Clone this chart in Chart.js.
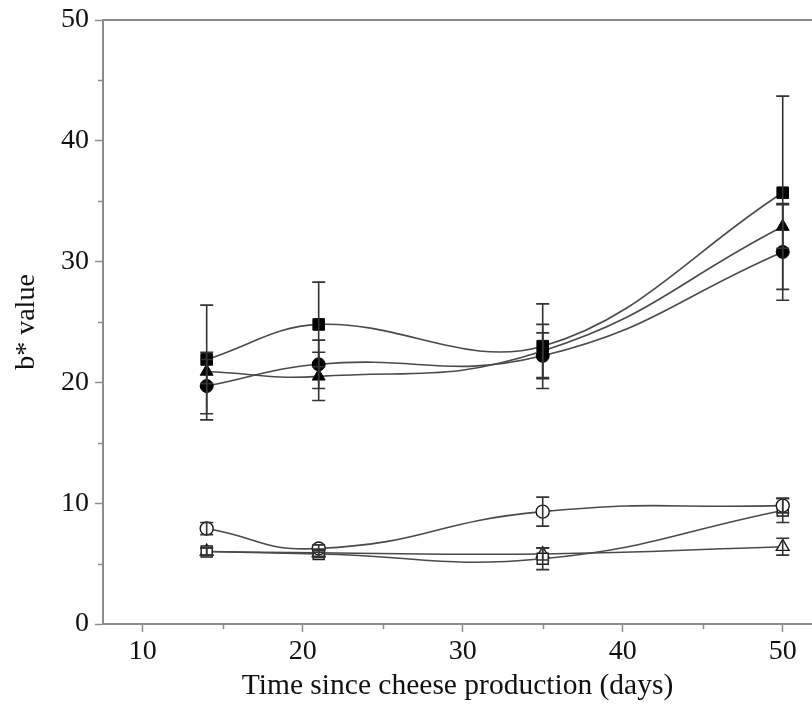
<!DOCTYPE html>
<html>
<head>
<meta charset="utf-8">
<script src="https://cdn.jsdelivr.net/npm/chart.js@4/dist/chart.umd.min.js"></script>
<style>
  html, body { margin: 0; padding: 0; background: #ffffff; }
  #wrap { width: 812px; height: 707px; }
</style>
</head>
<body>
<div id="wrap"><canvas id="chart" width="812" height="707"></canvas></div>
<script>
// Sampling days
const days = [14, 21, 35, 50];

// b* values (mean) and standard deviations per cheese group
const filledSquare = [21.9, 24.8, 23.0, 35.7];
const filledSquareErr = [4.5, 3.5, 3.5, 8.0];

const filledTriangle = [20.9, 20.5, 22.6, 32.9];
const filledTriangleErr = [1.0, 2.0, 2.2, 1.8];

const filledCircle = [19.7, 21.5, 22.2, 30.8];
const filledCircleErr = [2.8, 2.0, 1.9, 4.0];

const openCircle = [7.9, 6.25, 9.3, 9.8];
const openCircleErr = [0.5, 0.3, 1.2, 0.6];

const openSquare = [6.0, 5.8, 5.4, 9.4];
const openSquareErr = [0.3, 0.3, 0.9, 1.0];

const openTriangle = [6.0, 5.9, 5.8, 6.4];
const openTriangleErr = [0.3, 0.3, 0.5, 0.7];

// Axis ticks
const xMajorTicks = [10, 20, 30, 40, 50];
const xMinorTicks = [15, 25, 35, 45];
const yMajorTicks = [0, 10, 20, 30, 40, 50];
const yMinorTicks = [5, 15, 25, 35, 45];

const AXIS_GREY = '#8c8c8c';
const LINE_GREY = '#4a4a4a';
const SERIF = '"Liberation Serif", "Times New Roman", serif';

function series(label, values, errors, style, filled, radius, tension) {
  return {
    label: label,
    data: days.map((d, i) => ({ x: d, y: values[i] })),
    errors: errors,
    borderColor: LINE_GREY,
    borderWidth: 1.6,
    tension: tension,
    fill: false,
    clip: false,
    pointStyle: style,
    pointRadius: radius,
    pointHoverRadius: radius,
    pointBackgroundColor: filled ? '#000000' : '#ffffff',
    pointBorderColor: filled ? '#000000' : '#1a1a1a',
    pointBorderWidth: filled ? 1 : 1.4
  };
}

// Vertical error bars with caps, drawn from each point's scale position
const errorBars = {
  id: 'errorBars',
  afterDatasetsDraw(chart) {
    const ctx = chart.ctx;
    const yScale = chart.scales.y;
    ctx.save();
    ctx.strokeStyle = '#333333';
    ctx.lineWidth = 1.6;
    chart.data.datasets.forEach((ds, di) => {
      const meta = chart.getDatasetMeta(di);
      meta.data.forEach((pt, i) => {
        const v = ds.data[i].y;
        const e = ds.errors[i];
        const yTop = yScale.getPixelForValue(v + e);
        const yBot = yScale.getPixelForValue(v - e);
        const cap = 6.5;
        ctx.beginPath();
        ctx.moveTo(pt.x, yTop);
        ctx.lineTo(pt.x, yBot);
        ctx.moveTo(pt.x - cap, yTop);
        ctx.lineTo(pt.x + cap, yTop);
        ctx.moveTo(pt.x - cap, yBot);
        ctx.lineTo(pt.x + cap, yBot);
        ctx.stroke();
      });
    });
    ctx.restore();
  }
};

// Top frame line and short minor ticks on both axes
const frameAndMinorTicks = {
  id: 'frameAndMinorTicks',
  afterDraw(chart) {
    const ctx = chart.ctx;
    const { left, right, top, bottom } = chart.chartArea;
    const xs = chart.scales.x, ys = chart.scales.y;
    ctx.save();
    ctx.strokeStyle = AXIS_GREY;
    ctx.lineWidth = 2;
    ctx.beginPath();
    ctx.moveTo(left - 1, top);
    ctx.lineTo(right, top);
    ctx.stroke();
    ctx.lineWidth = 1.5;
    ctx.beginPath();
    xMinorTicks.forEach(v => {
      const px = Math.round(xs.getPixelForValue(v)) + 0.5;
      ctx.moveTo(px, bottom);
      ctx.lineTo(px, bottom + 5);
    });
    yMinorTicks.forEach(v => {
      const py = Math.round(ys.getPixelForValue(v)) + 0.5;
      ctx.moveTo(left, py);
      ctx.lineTo(left - 5, py);
    });
    ctx.stroke();
    ctx.restore();
  }
};

const ctx = document.getElementById('chart').getContext('2d');
new Chart(ctx, {
  type: 'line',
  data: {
    datasets: [
      series('■', filledSquare, filledSquareErr, 'rect', true, 8.2, 0.38),
      series('▲', filledTriangle, filledTriangleErr, 'triangle', true, 7.4, 0.45),
      series('●', filledCircle, filledCircleErr, 'circle', true, 6.5, 0.45),
      series('○', openCircle, openCircleErr, 'circle', false, 6.5, 0.5),
      series('□', openSquare, openSquareErr, 'rect', false, 7.8, 0.45),
      series('△', openTriangle, openTriangleErr, 'triangle', false, 7.4, 0.45)
    ]
  },
  options: {
    responsive: false,
    devicePixelRatio: 1,
    animation: false,
    layout: { autoPadding: false, padding: { top: 20, right: 0, left: 0, bottom: 0 } },
    plugins: {
      legend: { display: false },
      tooltip: { enabled: false }
    },
    scales: {
      x: {
        type: 'linear',
        min: 7.52,
        max: 51.83,
        afterFit(scale) {
          scale.height = 83;
          scale.paddingLeft = 0;
          scale.paddingRight = 0;
        },
        afterBuildTicks(scale) { scale.ticks = xMajorTicks.map(v => ({ value: v })); },
        grid: {
          drawOnChartArea: false,
          drawTicks: true,
          tickLength: 8,
          tickColor: AXIS_GREY,
          tickWidth: 1.5
        },
        border: { display: true, color: AXIS_GREY, width: 2 },
        ticks: {
          color: '#111111',
          font: { family: SERIF, size: 28 },
          padding: 3,
          maxRotation: 0,
          includeBounds: false
        },
        title: {
          display: true,
          text: 'Time since cheese production (days)',
          color: '#111111',
          font: { family: SERIF, size: 29.5 },
          padding: { top: 0, bottom: 3 }
        }
      },
      y: {
        type: 'linear',
        min: 0,
        max: 50,
        afterFit(scale) {
          scale.width = 103;
          scale.paddingTop = 0;
          scale.paddingBottom = 0;
        },
        afterBuildTicks(scale) { scale.ticks = yMajorTicks.map(v => ({ value: v })); },
        grid: {
          drawOnChartArea: false,
          drawTicks: true,
          tickLength: 8,
          tickColor: AXIS_GREY,
          tickWidth: 1.5
        },
        border: { display: true, color: AXIS_GREY, width: 2 },
        ticks: {
          color: '#111111',
          font: { family: SERIF, size: 28 },
          padding: 6
        },
        title: {
          display: true,
          text: 'b* value',
          color: '#111111',
          font: { family: SERIF, size: 28 },
          padding: { top: 10, bottom: 0 }
        }
      }
    }
  },
  plugins: [errorBars, frameAndMinorTicks]
});
</script>
</body>
</html>
